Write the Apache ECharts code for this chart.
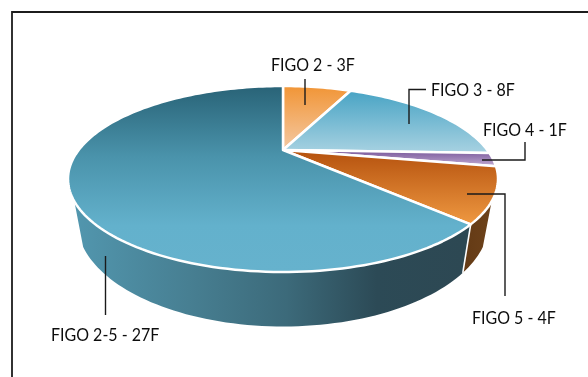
<!DOCTYPE html>
<html>
<head>
<meta charset="utf-8">
<style>html,body{margin:0;padding:0;background:#fff}#chart{width:588px;height:377px}</style>
<script src="https://cdn.jsdelivr.net/npm/echarts@6/dist/echarts.min.js"></script>
</head>
<body>
<div id="chart"></div>
<script>
// Cases per FIGO stage, clockwise from twelve o'clock
const stages = ['FIGO 2', 'FIGO 3', 'FIGO 4', 'FIGO 5', 'FIGO 2-5'];
const cases = [3, 8, 1, 4, 27];

const total = cases.reduce((a, b) => a + b, 0);
const TILT = 0.3118;            // perspective strength of the tilted disc
const topRim = { x: 283, y: 150, cx: 204.3, cy: 83.96 };
const lowRim = { x: 283, y: 189, cx: 195.7, cy: 94.6 };
const WALL_FROM = 121, WALL_TO = 239;  // rim angles where the side wall is visible

// Project a rim angle (degrees clockwise from the far point) onto the page
function project(rim, deg) {
  const t = deg * Math.PI / 180, u = Math.sin(t), v = Math.cos(t), d = 1 + TILT * v;
  return [rim.x + rim.cx * u / d, rim.y - rim.cy * v / d];
}
function arc(rim, from, to) {
  const n = Math.max(2, Math.ceil(Math.abs(to - from) / 1.5)), pts = [];
  for (let i = 0; i <= n; i++) pts.push(project(rim, from + (to - from) * i / n));
  return pts;
}
function sliceRange(index) {
  let start = 0;
  for (let i = 0; i < index; i++) start += cases[i];
  return [start / total * 360, (start + cases[index]) / total * 360];
}
const grad = (x, y, x2, y2, stops) => ({
  type: 'linear', x, y, x2, y2, global: true,
  colorStops: stops.map(s => ({ offset: s[0], color: s[1] }))
});

const topFills = [
  grad(0, 86, 0, 150, [[0, '#f19536'], [1, '#f4c9a3']]),
  grad(0, 90, 0, 152, [[0, '#47a3c4'], [1, '#a6d1e1']]),
  grad(0, 151, 0, 167, [[0, '#7a5a9c'], [1, '#c4aed4']]),
  grad(0, 152, 0, 226, [[0, '#b6530f'], [1, '#f09a42']]),
  grad(0, 86, 0, 272, [[0, '#296377'], [0.38, '#4a93ab'], [0.75, '#63b1cc'], [1, '#66b2cd']])
];
const wallFills = [
  null, null, null,
  grad(464, 0, 495, 0, [[0, '#643a15'], [1, '#6e431b']]),
  grad(71, 0, 463, 0, [[0, '#5297af'], [0.3, '#477f92'], [0.55, '#3c6a7a'], [0.78, '#2c4a56'], [1, '#2d4853']])
];

// Callout leaders and where each caption ends at the bottom
const callouts = [
  { path: [[305, 79], [305, 105]], text: [271, 74] },
  { path: [[426, 89.5], [409, 89.5], [409, 124]], text: [431, 99] },
  { path: [[482, 160], [525, 160], [525, 142]], text: [483, 139] },
  { path: [[467, 194], [505, 194], [505, 296]], text: [472, 327] },
  { path: [[105.5, 256], [105.5, 315]], text: [51, 344] }
];

const seriesData = stages.map((name, i) => ({ name, value: [i, cases[i]] }));

function renderWall(params, api) {
  const i = api.value(0), range = sliceRange(i);
  const from = Math.max(range[0], WALL_FROM), to = Math.min(range[1], WALL_TO);
  if (from >= to) return { type: 'group', children: [] };
  const points = arc(topRim, from, to).concat(arc(lowRim, to, from));
  return { type: 'polygon', shape: { points }, style: { fill: wallFills[i], lineWidth: 0 } };
}
function renderSeam(params, api) {
  const i = api.value(0), end = sliceRange(i)[1];
  if (end <= WALL_FROM || end >= WALL_TO) return { type: 'group', children: [] };
  const a = project(topRim, end), b = project(lowRim, end);
  return { type: 'line', shape: { x1: a[0], y1: a[1], x2: b[0], y2: b[1] },
    style: { stroke: '#fff', lineWidth: 1.6 } };
}
function renderTop(params, api) {
  const i = api.value(0), range = sliceRange(i);
  const points = [[topRim.x, topRim.y]].concat(arc(topRim, range[0], range[1]));
  return { type: 'polygon', shape: { points },
    style: { fill: topFills[i], stroke: '#fff', lineWidth: 2.5, lineJoin: 'round' } };
}
function renderCallout(params, api) {
  const i = api.value(0), c = callouts[i];
  return { type: 'group', children: [
    { type: 'polyline', shape: { points: c.path },
      style: { fill: 'none', stroke: '#1a1a1a', lineWidth: 1.4 } },
    { type: 'text', x: c.text[0], y: c.text[1], scaleY: 1.12,
      style: { text: stages[i] + ' - ' + api.value(1) + 'F', fill: '#0d0d0d',
        font: '16px Lato', textAlign: 'left', textVerticalAlign: 'bottom' } }
  ] };
}

const chart = echarts.init(document.getElementById('chart'), null, { renderer: 'canvas' });
chart.setOption({
  animation: false,
  backgroundColor: '#fff',
  graphic: [{
    type: 'polyline', silent: true, z: 0,
    shape: { points: [[12, 377], [12, 12], [588, 12]] },
    style: { fill: 'none', stroke: '#1c1c1c', lineWidth: 1.8 }
  }],
  series: [
    { type: 'custom', coordinateSystem: 'none', z: 2, data: seriesData, renderItem: renderWall, silent: true },
    { type: 'custom', coordinateSystem: 'none', z: 3, data: seriesData, renderItem: renderSeam, silent: true },
    { type: 'custom', coordinateSystem: 'none', z: 4, data: seriesData, renderItem: renderTop, silent: true },
    { type: 'custom', coordinateSystem: 'none', z: 5, data: seriesData, renderItem: renderCallout, silent: true }
  ]
});
</script>
</body>
</html>
